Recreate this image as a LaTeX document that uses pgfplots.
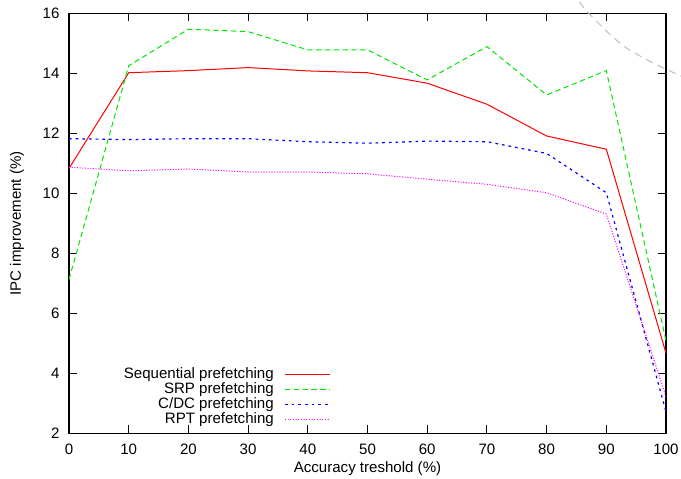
\documentclass[border=0pt]{standalone}
\usepackage{fontspec}
\setmainfont{Liberation Sans}
\usepackage{pgfplots}
\pgfplotsset{compat=1.18}
\definecolor{gpgreen}{RGB}{0,230,0}
\definecolor{gpred}{RGB}{255,0,0}
\definecolor{gpblue}{RGB}{0,0,255}
\definecolor{gpmag}{RGB}{255,0,255}
\definecolor{gpgray}{RGB}{190,190,190}
\begin{document}
\begin{tikzpicture}
\begin{axis}[
  scale only axis,
  width=447.75pt, height=315pt,
  xmin=0, xmax=100, ymin=2, ymax=16,
  xtick={0,10,...,100}, ytick={2,4,...,16},
  tick align=inside, major tick length=6pt,
  tick style={black, line width=0.8pt},
  axis line style={black, line width=1pt},
  clip=false,
  font=\fontsize{11.3}{13.6}\selectfont,
  /pgf/number format/assume math mode=true,
  xticklabel style={yshift=-4.3pt},
  yticklabel style={xshift=-3.6pt},
  xlabel={Accuracy treshold (\%)},
  ylabel={IPC improvement (\%)},
  xlabel style={at={(axis description cs:0.5,0)}, anchor=center, yshift=-26.2pt},
  ylabel style={at={(axis description cs:-0.087,0.5)}, anchor=center},
  legend plot pos=right,
  legend cell align=right,
  legend image code/.code={\draw[#1, line width=0.9pt] (0cm,0cm) -- (1.18cm,0cm);},
  legend style={draw=none, fill=none, at={(rel axis cs:0.445,0.0150)}, anchor=south east,
    font=\fontsize{11.3}{11}\selectfont, inner ysep=0pt, row sep=0pt, column sep=6pt,
    nodes={inner ysep=0.5pt, text height=8pt, text depth=2.25pt}},
]
\addplot[gpgray, line width=0.75pt, dash pattern=on 5.5pt off 4pt, smooth, forget plot] coordinates {
 (84.2,16.71) (85.7,16.33) (86.8,16.05) (90.7,15.28) (93.5,14.83) (97.4,14.39) (102.6,13.90) (105.8,13.62)};
\addplot[gpred, line width=0.75pt] coordinates {
 (0,10.83) (10,14.02) (20,14.09) (30,14.19) (40,14.08) (50,14.02)
 (60,13.67) (70,12.97) (80,11.91) (90,11.47) (100,4.67)};
\addlegendentry{Sequential prefetching}
\addplot[gpgreen, line width=0.75pt, dash pattern=on 4pt off 2.6pt] coordinates {
 (0,7.13) (10,14.25) (20,15.47) (30,15.39) (40,14.78) (50,14.78)
 (60,13.78) (70,14.89) (80,13.28) (90,14.09) (100,5.08)};
\addlegendentry{SRP prefetching}
\addplot[gpblue, line width=0.9pt, dash pattern=on 2pt off 3pt] coordinates {
 (0,11.82) (10,11.79) (20,11.82) (30,11.82) (40,11.72) (50,11.67)
 (60,11.74) (70,11.72) (80,11.33) (90,10.02) (100,2.72)};
\addlegendentry{C/DC prefetching}
\addplot[gpmag, line width=0.75pt, dash pattern=on 0.8pt off 1.2pt] coordinates {
 (0,10.87) (10,10.75) (20,10.81) (30,10.71) (40,10.71) (50,10.65)
 (60,10.47) (70,10.30) (80,10.02) (90,9.31) (100,3.22)};
\addlegendentry{RPT prefetching}
\coordinate (BL) at (rel axis cs:-0.1156,-0.1064);
\coordinate (TR) at (rel axis cs:1.0251,1.0317);
\end{axis}
\pgfresetboundingbox
\path[use as bounding box] (BL) rectangle (TR);
\end{tikzpicture}
\end{document}
